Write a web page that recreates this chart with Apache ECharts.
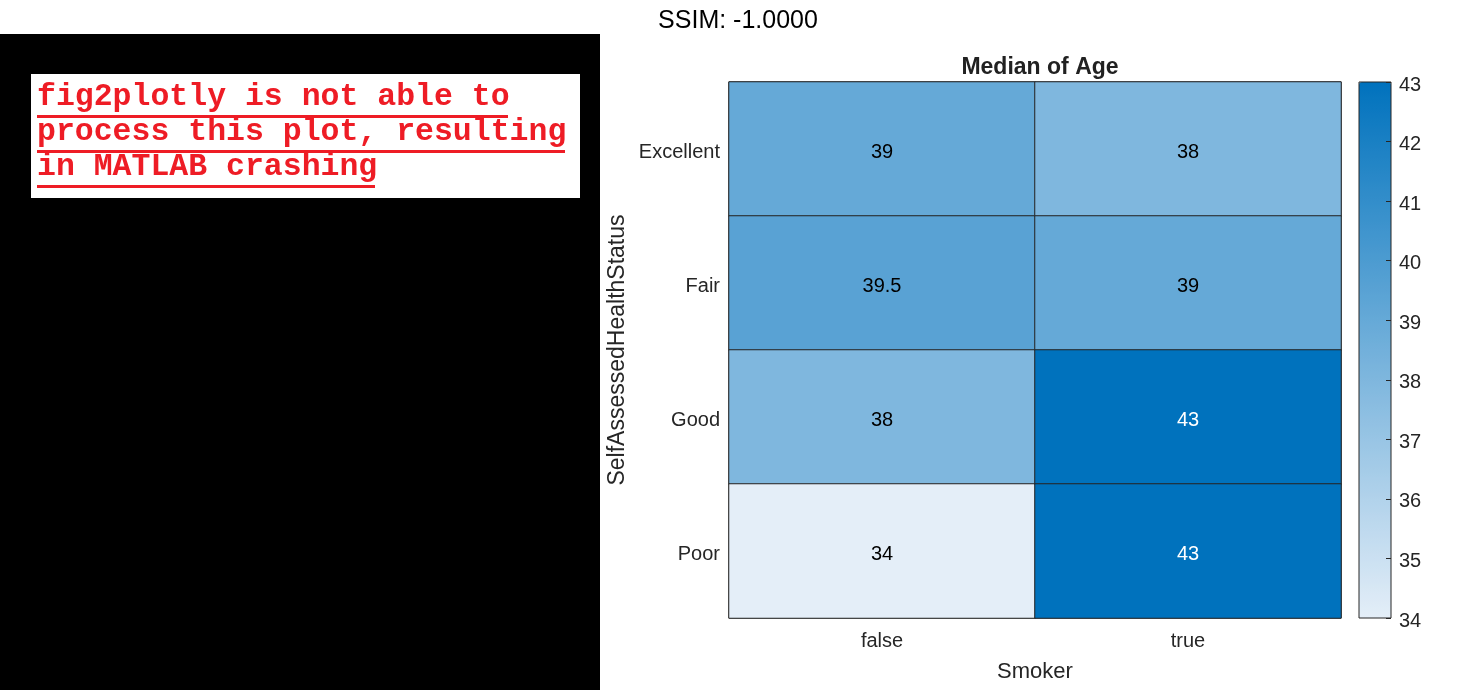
<!DOCTYPE html>
<html>
<head>
<meta charset="utf-8">
<script src="https://cdn.jsdelivr.net/npm/echarts@6/dist/echarts.min.js"></script>
<style>
html,body{margin:0;padding:0;background:#fff;}
#chart{width:1475px;height:690px;}
</style>
</head>
<body>
<div id="chart"></div>
<script>
// ---- data ----
var smokerCategories = ['false', 'true'];
var healthCategories = ['Excellent', 'Fair', 'Good', 'Poor'];
var medianAgeNonSmoker = [39, 39.5, 38, 34];
var medianAgeSmoker = [38, 39, 43, 43];
var colorbarTicks = [34, 35, 36, 37, 38, 39, 40, 41, 42, 43];
var noteLines = ['fig2plotly is not able to', 'process this plot, resulting', 'in MATLAB crashing'];

var FONT = '"Liberation Sans", Arial, Helvetica, sans-serif';
var MONO = '"Liberation Mono", "Courier New", monospace';

var columns = [medianAgeNonSmoker, medianAgeSmoker];
var heatData = [];
for (var xi = 0; xi < columns.length; xi++) {
  for (var yi = 0; yi < healthCategories.length; yi++) {
    var v = columns[xi][yi];
    heatData.push({
      value: [xi, yi, v],
      label: { color: v > 41 ? '#ffffff' : '#000000' }
    });
  }
}

var cbMin = colorbarTicks[0], cbMax = colorbarTicks[colorbarTicks.length - 1];

// note graphics
var noteGraphics = [
  { type: 'rect', shape: { x: 0, y: 34, width: 600, height: 656 }, style: { fill: '#000' }, z: 0 },
  { type: 'rect', shape: { x: 31, y: 74, width: 549, height: 124 }, style: { fill: '#fff' }, z: 1 }
];
var lineY = [97, 132, 167];
var underlineY = [115, 150, 185];
var underlineWidths = [471, 528, 338];
for (var i = 0; i < noteLines.length; i++) {
  noteGraphics.push({
    type: 'text', z: 2,
    style: { text: noteLines[i], x: 37, y: lineY[i], font: 'bold 31.5px ' + MONO, fill: '#ee1c25', textVerticalAlign: 'middle', verticalAlign: 'middle' }
  });
  noteGraphics.push({
    type: 'rect', z: 2,
    shape: { x: 37, y: underlineY[i], width: underlineWidths[i], height: 3 },
    style: { fill: '#ee1c25' }
  });
}

function shifted(v) { return '{a|' + v + '}'; }

var chart = echarts.init(document.getElementById('chart'));
chart.setOption({
  backgroundColor: '#ffffff',
  animation: false,
  title: [
    { text: 'SSIM: -1.0000', left: 733, top: 4, textAlign: 'center',
      textStyle: { fontFamily: FONT, fontSize: 25, fontWeight: 'normal', color: '#000' } },
    { text: 'Median of Age', left: 1035, top: 51, textAlign: 'center',
      textStyle: { fontFamily: FONT, fontSize: 23, fontWeight: 'bold', color: '#212121' } }
  ],
  graphic: noteGraphics,
  grid: [
    { left: 729, top: 82, width: 612, height: 536, show: true, borderColor: '#262626', borderWidth: 1, backgroundColor: 'transparent' },
    { left: 1359, top: 82, width: 32, height: 536, show: true, z: 10, borderColor: '#262626', borderWidth: 1, backgroundColor: 'transparent' }
  ],
  xAxis: [
    { type: 'category', gridIndex: 0, data: smokerCategories, position: 'bottom',
      axisLine: { show: false }, axisTick: { show: false }, splitLine: { show: false },
      axisLabel: { fontFamily: FONT, fontSize: 20, color: '#262626', margin: 13 },
      name: 'Smoker', nameLocation: 'middle', nameGap: 43,
      nameTextStyle: { fontFamily: FONT, fontSize: 22, color: '#262626' } },
    { type: 'category', gridIndex: 1, data: [''], show: false }
  ],
  yAxis: [
    { type: 'category', gridIndex: 0, data: healthCategories, inverse: true,
      axisLine: { show: false }, axisTick: { show: false }, splitLine: { show: false },
      axisLabel: { fontFamily: FONT, fontSize: 20, color: '#262626', margin: 9,
        formatter: shifted,
        rich: { a: { fontFamily: FONT, fontSize: 20, color: '#262626', padding: [6, 0, 0, 0] } } },
      name: 'SelfAssessedHealthStatus', nameLocation: 'middle', nameGap: 100, nameRotate: 90,
      nameTextStyle: { fontFamily: FONT, fontSize: 23, color: '#262626' } },
    { type: 'value', gridIndex: 1, min: cbMin, max: cbMax, interval: 1, position: 'right', z: 10,
      axisLine: { show: false }, splitLine: { show: false },
      axisTick: { show: true, inside: true, length: 5, lineStyle: { color: '#262626', width: 1 } },
      axisLabel: { fontFamily: FONT, fontSize: 20, color: '#262626', margin: 8,
        formatter: function (v) { return colorbarTicks.indexOf(v) >= 0 ? shifted(v) : ''; },
        rich: { a: { fontFamily: FONT, fontSize: 20, color: '#262626', padding: [6, 0, 0, 0] } } } }
  ],
  visualMap: {
    type: 'continuous', min: cbMin, max: cbMax, calculable: false, orient: 'vertical',
    left: 1359, top: 82, itemWidth: 32, itemHeight: 536, padding: 0,
    seriesIndex: 0, hoverLink: false,
    inRange: { color: ['#e4eef8', '#0072bd'] }
  },
  series: [{
    type: 'heatmap', xAxisIndex: 0, yAxisIndex: 0, data: heatData,
    itemStyle: { borderColor: '#262626', borderWidth: 1 },
    label: { show: true, fontFamily: FONT, fontSize: 20, offset: [0, 3],
      formatter: function (p) { return String(p.value[2]); } },
    emphasis: { disabled: true }
  }]
});
</script>
</body>
</html>
